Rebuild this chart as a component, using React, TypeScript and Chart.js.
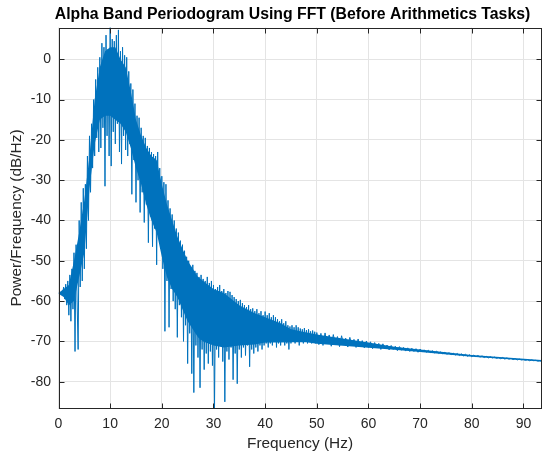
import { useEffect, useRef } from "react";
import { Chart, registerables } from "chart.js";

Chart.register(...registerables);

// FFT bin spacing used for each stretch of the spectrum (Hz)
const fineBinHz = 0.2;
const coarseBinHz = 0.4;

// Power/Frequency (dB/Hz), read bin by bin from the reference
const startHz0to10 = 0;
const power0to10 = [
  -58.0, -57.9, -58.1, -57.6, -58.2, -56.5, -59.5, -55.8, -61.0, -55.0,
  -63.5, -53.5, -65.0, -52.0, -62.0, -48.0, -72.5, -46.0, -60.0, -72.0,
  -40.0, -56.5, -35.5, -55.0, -32.0, -52.0, -31.0, -47.0, -24.0, -40.0,
  -19.0, -33.0, -16.0, -27.0, -10.0, -24.0, -5.0, -19.5, -2.0, -23.0,
  0.5, -22.0, 4.0, -17.0, 3.0, -31.5, 6.0, -19.0, 2.5, -24.0,
];

const startHz10to20 = 10;
const power10to20 = [
  7.9, -26.5, 5.0, -18.0, 4.5, -21.0, 6.0, -16.0, 7.3, -23.0,
  2.0, -26.0, 3.0, -19.0, 1.0, -22.5, 0.5, -24.0, -3.0, -21.0,
  -6.0, -33.5, -7.5, -25.0, -11.0, -35.5, -14.0, -30.0, -14.5, -38.0,
  -17.0, -33.0, -19.0, -40.5, -19.5, -36.0, -21.5, -45.5, -22.0, -39.0,
  -23.0, -46.5, -23.5, -42.0, -24.0, -51.0, -23.0, -44.0, -27.0, -47.0,
];

const startHz20to30 = 20;
const power20to30 = [
  -29.0, -52.0, -30.5, -67.5, -31.0, -55.0, -35.0, -66.5, -37.0, -57.0,
  -38.5, -60.0, -40.0, -62.0, -42.0, -69.0, -43.0, -61.0, -45.0, -64.0,
  -46.0, -70.0, -47.5, -66.0, -49.0, -75.5, -50.0, -68.0, -51.5, -78.0,
  -51.0, -82.7, -52.5, -71.0, -53.0, -74.0, -54.0, -81.5, -53.5, -72.0,
  -54.5, -77.0, -55.0, -73.0, -54.0, -75.5, -55.5, -72.5, -55.0, -76.0,
];

const startHz30to50 = 30;
const power30to50 = [
  -56.0, -86.6, -57.0, -72.0, -56.5, -74.0, -56.0, -71.0, -57.5, -75.0,
  -57.0, -85.0, -58.0, -72.5, -57.5, -74.5, -57.7, -71.5, -58.5, -79.5,
  -59.0, -73.0, -59.5, -80.5, -60.0, -72.0, -59.7, -74.0, -60.5, -71.5,
  -61.0, -73.5, -61.5, -71.0, -61.0, -76.3, -62.0, -72.0, -61.8, -73.0,
  -62.5, -71.5, -62.0, -72.5, -63.0, -71.0, -62.5, -72.0, -63.5, -71.0,
  -62.6, -70.5, -63.5, -71.5, -63.0, -70.5, -64.0, -71.0, -63.5, -70.0,
  -64.0, -71.5, -64.5, -70.5, -65.0, -71.0, -64.5, -70.0, -65.5, -71.0,
  -65.0, -70.5, -66.0, -72.0, -66.3, -70.5, -66.0, -70.0, -66.5, -70.5,
  -66.0, -70.0, -66.5, -71.0, -66.8, -70.0, -67.0, -70.5, -66.7, -70.0,
  -67.2, -70.5, -67.0, -70.0, -67.5, -70.5, -67.3, -70.0, -67.6, -70.5,
];

const startHz50up = 50;
const power50up = [
  -67.8, -70.8, -68.0, -71.0, -67.9, -70.6, -68.4, -71.2, -68.3, -70.9,
  -68.8, -71.3, -68.6, -70.8, -69.2, -71.4, -69.0, -71.1, -69.5, -71.5,
  -69.4, -71.2, -69.8, -71.6, -69.9, -71.5, -70.1, -71.8, -70.3, -71.6,
  -70.5, -72.0, -70.6, -71.8, -70.9, -72.1, -71.0, -72.0, -71.2, -72.3,
  -71.3, -72.2, -71.5, -72.4, -71.6, -72.5, -71.7, -72.5, -71.8, -72.7,
  -71.9, -72.6, -72.1, -72.7, -72.2, -72.8, -72.3, -72.9, -72.4, -73.0,
  -72.6, -73.1, -72.7, -73.2, -72.8, -73.3, -72.9, -73.4, -73.0, -73.5,
  -73.1, -73.6, -73.2, -73.7, -73.3, -73.8, -73.4, -73.8, -73.5, -73.9,
  -73.6, -74.0, -73.7, -74.1, -73.8, -74.1, -73.9, -74.2, -74.0, -74.3,
  -74.0, -74.4, -74.1, -74.4, -74.2, -74.5, -74.3, -74.6, -74.4, -74.6,
  -74.5, -74.7, -74.5, -74.8, -74.6, -74.8, -74.7, -74.9, -74.8, -75.0,
];

// Dense core of the spectrum (where the trace fills solid), upper and lower edge
const coreFreqHz = [
  0, 1, 2, 3, 4, 5, 6, 7, 8, 9, 10, 11, 12, 13, 14, 15, 16, 17, 18, 19,
  20, 21, 22, 23, 24, 25, 26, 27, 28, 30, 32, 35, 38, 40, 43, 45, 48, 50,
  55, 60, 65, 70, 80, 93.5,
];
const coreUpperDb = [
  -58, -57, -56, -50, -43, -35, -24, -10, -2, 2, 3, 3, 0, -2, -8, -15, -19, -22, -24, -25,
  -31, -36, -40, -44, -47, -50, -52, -54, -55, -57, -58, -61, -63, -64, -65.5, -67, -67.8, -68.3,
  -69.3, -70.3, -71.3, -72.0, -73.4, -74.6,
];
const coreLowerDb = [
  -58.2, -59, -61, -60, -54, -48, -32, -21, -15, -14, -14, -15, -16, -18, -22, -27, -31, -36, -40, -43,
  -49, -54, -57, -59, -62, -65, -67, -69, -70, -71, -71.5, -71, -70.8, -70.3, -70.3, -70.2, -70.2, -70.6,
  -71.1, -71.6, -72.1, -72.6, -73.8, -75.0,
];

const xTickValues = [0, 10, 20, 30, 40, 50, 60, 70, 80, 90];
const yTickValues = [-80, -70, -60, -50, -40, -30, -20, -10, 0];
const xLimits = [0, 93.5];
const yLimits = [-86.65, 7.89];

const titleText = "Alpha Band Periodogram Using FFT (Before Arithmetics Tasks)";
const xLabel = "Frequency (Hz)";
const yLabel = "Power/Frequency (dB/Hz)";

const FONT = '"Liberation Sans", Arial, Helvetica, sans-serif';
const AXIS_COLOR = "#262626";
const LINE_COLOR = "#0072BD";

function toPoints(startHz: number, step: number, values: number[]) {
  return values.map((v, i) => ({
    x: Math.round((startHz + i * step) * 1000) / 1000,
    y: v,
  }));
}

const boxPlugin = {
  id: "axesBox",
  afterDraw(chart: any) {
    const { ctx, chartArea: a } = chart;
    const xs = chart.scales.x;
    const ys = chart.scales.y;
    const tick = 5;
    ctx.save();
    ctx.strokeStyle = AXIS_COLOR;
    ctx.lineWidth = 1;
    const L = Math.round(a.left) + 0.5;
    const R = Math.round(a.right) - 0.5;
    const T = Math.round(a.top) + 0.5;
    const B = Math.round(a.bottom) - 0.5;
    ctx.strokeRect(L, T, R - L, B - T);
    ctx.beginPath();
    for (const v of xTickValues) {
      const px = Math.round(xs.getPixelForValue(v)) + 0.5;
      ctx.moveTo(px, B);
      ctx.lineTo(px, B - tick);
      ctx.moveTo(px, T);
      ctx.lineTo(px, T + tick);
    }
    for (const v of yTickValues) {
      const py = Math.round(ys.getPixelForValue(v)) + 0.5;
      ctx.moveTo(L, py);
      ctx.lineTo(L + tick, py);
      ctx.moveTo(R, py);
      ctx.lineTo(R - tick, py);
    }
    ctx.stroke();
    ctx.fillStyle = "#000000";
    ctx.font = `bold 15.8px ${FONT}`;
    ctx.textAlign = "center";
    ctx.textBaseline = "middle";
    ctx.fillText(titleText, (a.left + a.right) / 2 - 7.5, 14.7);
    ctx.restore();
  },
};

export default function App() {
  const ref = useRef<HTMLCanvasElement | null>(null);

  useEffect(() => {
    if (!ref.current) return;
    const points = [
      ...toPoints(startHz0to10, fineBinHz, power0to10),
      ...toPoints(startHz10to20, fineBinHz, power10to20),
      ...toPoints(startHz20to30, fineBinHz, power20to30),
      ...toPoints(startHz30to50, fineBinHz, power30to50),
      ...toPoints(startHz50up, coarseBinHz, power50up),
    ];
    const coreUpper = coreFreqHz.map((f, i) => ({ x: f, y: coreUpperDb[i] }));
    const coreLower = coreFreqHz.map((f, i) => ({ x: f, y: coreLowerDb[i] }));
    const chart = new Chart(ref.current, {
      type: "line",
      data: {
        datasets: [
          {
            data: coreUpper,
            borderWidth: 0,
            borderColor: "rgba(0,0,0,0)",
            pointRadius: 0,
            tension: 0,
            fill: false,
            clip: 0,
          } as any,
          {
            data: coreLower,
            borderWidth: 0,
            borderColor: "rgba(0,0,0,0)",
            backgroundColor: LINE_COLOR,
            pointRadius: 0,
            tension: 0,
            fill: "-1",
            clip: 0,
          } as any,
          {
            data: points,
            borderColor: LINE_COLOR,
            borderWidth: 1,
            pointRadius: 0,
            tension: 0,
            fill: false,
            clip: 0,
          } as any,
        ],
      },
      options: {
        animation: false,
        responsive: false,
        events: [],
        layout: { padding: { top: 27.5, right: 3.5, left: 0, bottom: 0 } },
        plugins: {
          legend: { display: false },
          tooltip: { enabled: false },
          title: { display: false },
        },
        scales: {
          x: {
            type: "linear",
            min: xLimits[0],
            max: xLimits[1],
            afterBuildTicks: (s: any) => {
              s.ticks = xTickValues.map((v) => ({ value: v }));
            },
            afterFit: (s: any) => {
              s.height = 49.5;
            },
            grid: { color: "#e4e4e4", lineWidth: 1, drawTicks: false },
            border: { display: false },
            ticks: {
              autoSkip: false,
              maxRotation: 0,
              padding: 7.1,
              color: AXIS_COLOR,
              font: { family: FONT, size: 14 },
              callback: (v: any) => String(v),
            },
            title: {
              display: true,
              text: xLabel,
              color: AXIS_COLOR,
              font: { family: FONT, size: 15.4 },
              padding: { top: 0, bottom: 5 },
            },
          },
          y: {
            type: "linear",
            min: yLimits[0],
            max: yLimits[1],
            afterBuildTicks: (s: any) => {
              s.ticks = yTickValues.map((v) => ({ value: v }));
            },
            afterFit: (s: any) => {
              s.width = 58.5;
            },
            grid: { color: "#e4e4e4", lineWidth: 1, drawTicks: false },
            border: { display: false },
            ticks: {
              autoSkip: false,
              padding: 7.5,
              color: AXIS_COLOR,
              font: { family: FONT, size: 14 },
              callback: (v: any) => String(v),
            },
            title: {
              display: true,
              text: yLabel,
              color: AXIS_COLOR,
              font: { family: FONT, size: 15.4 },
              padding: { top: 7.3, bottom: 0 },
            },
          },
        },
      },
      plugins: [boxPlugin],
    });
    return () => chart.destroy();
  }, []);

  return (
    <div style={{ position: "absolute", left: 0, top: 0, width: 545, height: 458, background: "#ffffff" }}>
      <canvas ref={ref} width={545} height={458} style={{ display: "block", width: 545, height: 458 }} />
    </div>
  );
}
